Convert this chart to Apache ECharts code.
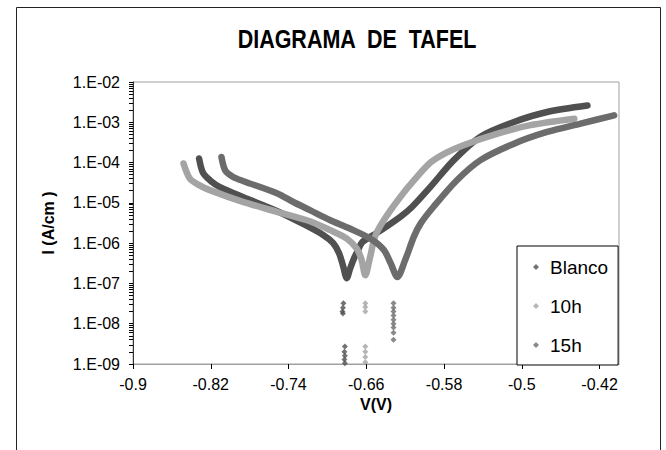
<!DOCTYPE html>
<html><head><meta charset="utf-8">
<script src="https://cdn.jsdelivr.net/npm/echarts@6/dist/echarts.min.js"></script>
<style>html,body{margin:0;padding:0;background:#fff}#c{width:666px;height:450px}</style>
</head><body><div id="c"></div>
<script>
// ---- data ----
const seriesNames = ['Blanco', '10h', '15h'];
const seriesColors = ['#505050', '#a4a4a4', '#6c6c6c'];

const blancoV = [-0.832,-0.828,-0.820,-0.811,-0.787,-0.752,-0.725,-0.704,-0.694,-0.688,-0.684,-0.680,-0.677,-0.673,-0.668,-0.664,-0.649,-0.625,-0.613,-0.594,-0.570,-0.5425,-0.508,-0.474,-0.4325];
const blancoI = [1.26e-4,5.6e-5,3.5e-5,2.5e-5,1.4e-5,6.3e-6,3.0e-6,1.58e-6,1.0e-6,5.6e-7,2.8e-7,1.35e-7,2.2e-7,4.0e-7,7.1e-7,1.07e-6,1.8e-6,4.5e-6,7.9e-6,2.5e-5,1.15e-4,4.4e-4,1.02e-3,1.8e-3,2.6e-3];

const h10V = [-0.848,-0.8415,-0.832,-0.821,-0.787,-0.752,-0.718,-0.697,-0.680,-0.670,-0.665,-0.661,-0.656,-0.651,-0.642,-0.625,-0.611,-0.594,-0.578,-0.560,-0.525,-0.491,-0.446];
const h10I = [9.5e-5,4.0e-5,2.75e-5,2.07e-5,1.06e-5,6.0e-6,3.5e-6,2.1e-6,1.3e-6,7.4e-7,4.0e-7,1.6e-7,4.6e-7,1.45e-6,3.7e-6,1.4e-5,3.6e-5,1.0e-4,1.75e-4,2.7e-4,5.2e-4,8.5e-4,1.23e-3];

const h15V = [-0.809,-0.805,-0.797,-0.787,-0.752,-0.735,-0.718,-0.697,-0.677,-0.656,-0.642,-0.635,-0.628,-0.620,-0.611,-0.604,-0.591,-0.567,-0.5425,-0.508,-0.474,-0.4395,-0.405];
const h15I = [1.38e-4,6.3e-5,4.4e-5,3.5e-5,1.74e-5,1.05e-5,6.6e-6,3.7e-6,2.3e-6,1.3e-6,6.8e-7,3.2e-7,1.45e-7,3.8e-7,1.45e-6,3.1e-6,7.9e-6,3.6e-5,1.15e-4,2.95e-4,5.75e-4,9.3e-4,1.48e-3];

// isolated points near the corrosion potential
const blancoDotsV = [-0.6835,-0.684,-0.6845,-0.684,-0.682,-0.6825,-0.682,-0.6825,-0.682];
const blancoDotsI = [3.2e-8,2.5e-8,2.0e-8,1.8e-8,2.7e-9,2.0e-9,1.6e-9,1.3e-9,1.05e-9];
const h10DotsV = [-0.661,-0.661,-0.661,-0.661,-0.661,-0.661,-0.661];
const h10DotsI = [3.2e-8,2.6e-8,2.0e-8,2.7e-9,2.0e-9,1.5e-9,1.1e-9];
const h15DotsV = [-0.632,-0.632,-0.632,-0.632,-0.632,-0.632,-0.632,-0.632,-0.632];
const h15DotsI = [3.2e-8,2.5e-8,2.0e-8,1.6e-8,1.25e-8,1.0e-8,8e-9,6e-9,4.0e-9];

const xTickLabels = [-0.9,-0.82,-0.74,-0.66,-0.58,-0.5,-0.42];
const yTickLabels = [1e-9,1e-8,1e-7,1e-6,1e-5,1e-4,1e-3,1e-2];

// ---- build ----
const pairs = (xs, ys) => xs.map((x, i) => [x, ys[i]]);
const yMinorTicks = [];
yTickLabels.forEach((d, i) => {
  if (i < yTickLabels.length - 1) { for (let k = 1; k <= 9; k++) yMinorTicks.push(+(k * d).toPrecision(3)); }
  else yMinorTicks.push(d);
});
const FONT = 'Liberation Sans, Arial, sans-serif';
const lines = [[blancoV, blancoI], [h10V, h10I], [h15V, h15I]];
const dots = [[blancoDotsV, blancoDotsI], [h10DotsV, h10DotsI], [h15DotsV, h15DotsI]];
const series = [];
seriesNames.forEach((n, i) => {
  series.push({
    name: n, type: 'scatter', data: pairs(dots[i][0], dots[i][1]),
    symbol: 'diamond', symbolSize: 6, itemStyle: { color: seriesColors[i] }, z: 2 + i
  });
  series.push({
    name: n, type: 'line', data: pairs(lines[i][0], lines[i][1]),
    showSymbol: false, smooth: 0.3, clip: false,
    lineStyle: { width: 6.5, color: seriesColors[i], cap: 'round', join: 'round' },
    itemStyle: { color: seriesColors[i] }, z: 2 + i
  });
});

const chart = echarts.init(document.getElementById('c'), null, { renderer: 'svg' });
chart.setOption({
  animation: false,
  backgroundColor: '#fff',
  textStyle: { fontFamily: FONT },
  graphic: [{
    type: 'rect', shape: { x: 16.5, y: 7.5, width: 644, height: 470 },
    style: { fill: 'none', stroke: '#222', lineWidth: 1 }, silent: true, z: -1
  }, {
    type: 'text', x: 357, y: 39, scaleX: 0.86, silent: true, z: 10,
    style: { text: 'DIAGRAMA  DE  TAFEL', fill: '#000', font: 'bold 25px Liberation Sans, Arial, sans-serif', textAlign: 'center', textVerticalAlign: 'middle' }
  }],
  grid: { left: 133, top: 82, right: 47, bottom: 86, show: true, borderColor: '#a0a0a0', borderWidth: 1, containLabel: false },
  legend: {
    data: seriesNames.map(n => ({ name: n, icon: 'diamond' })),
    orient: 'vertical', left: 517, top: 246,
    itemWidth: 6, itemHeight: 6, itemGap: 19,
    padding: [11, 10, 10, 16],
    backgroundColor: '#fff', borderColor: '#000', borderWidth: 1,
    textStyle: { fontFamily: FONT, fontSize: 19, color: '#000', lineHeight: 20, padding: [0, 0, 0, 6] }
  },
  xAxis: {
    type: 'value', min: -0.9, max: -0.4,
    axisLine: { show: true, onZero: false, lineStyle: { color: '#a0a0a0', width: 1 } },
    axisTick: { show: true, customValues: xTickLabels, length: 5, lineStyle: { color: '#000' } },
    axisLabel: { customValues: xTickLabels, formatter: v => String(+(+v).toFixed(2)), fontSize: 16, color: '#000', margin: 12, fontFamily: FONT },
    splitLine: { show: false },
    name: 'V(V)', nameLocation: 'middle', nameGap: 32,
    nameTextStyle: { fontFamily: FONT, fontWeight: 'bold', fontSize: 16, color: '#000' }
  },
  yAxis: {
    type: 'log', logBase: 10, min: 1e-9, max: 1e-2,
    axisLine: { show: true, lineStyle: { color: '#333', width: 1 } },
    axisTick: { show: true, customValues: yMinorTicks, length: 4, lineStyle: { color: '#000' } },
    axisLabel: {
      customValues: yTickLabels,
      formatter: v => '1.E-' + String(Math.round(-Math.log10(v))).padStart(2, '0'),
      fontSize: 16, color: '#000', margin: 13, fontFamily: FONT
    },
    splitLine: { show: false },
    name: 'I (A/cm )', nameLocation: 'middle', nameGap: 77, nameRotate: 90,
    nameTextStyle: { fontFamily: FONT, fontWeight: 'bold', fontSize: 16, color: '#000' }
  },
  series: series
});
</script></body></html>
